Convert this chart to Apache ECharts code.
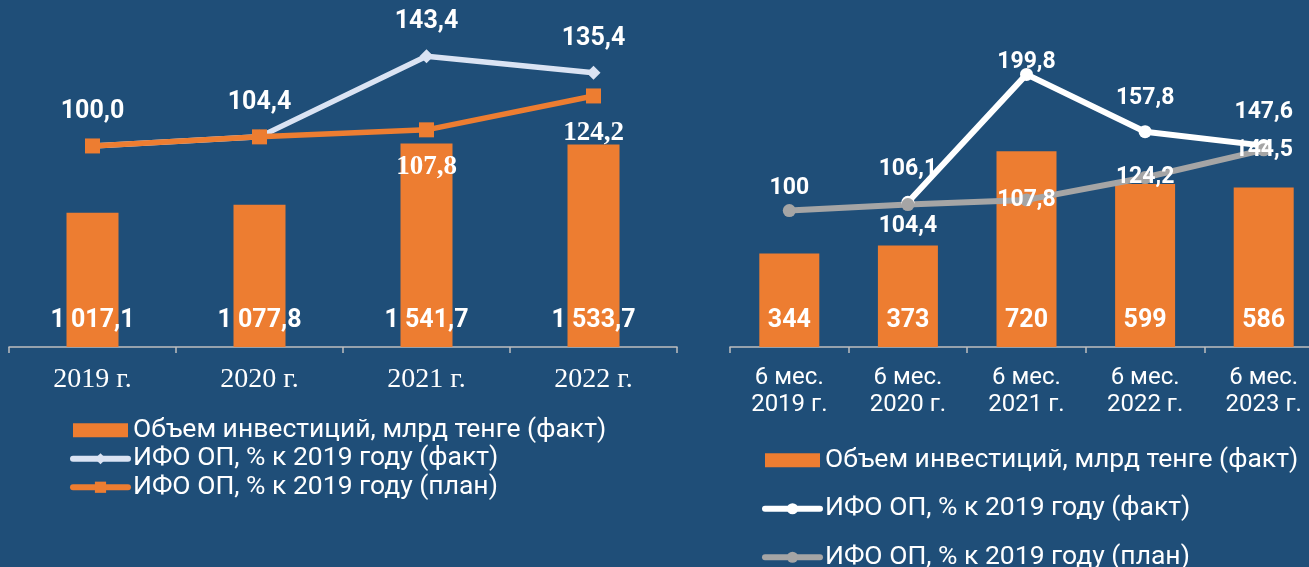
<!DOCTYPE html>
<html>
<head>
<meta charset="utf-8">
<script src="https://cdn.jsdelivr.net/npm/echarts@6/dist/echarts.min.js"></script>
<style>
  html, body { margin: 0; padding: 0; background: #1f4e78; }
  #chart { width: 1309px; height: 567px; }
</style>
</head>
<body>
<div id="chart"></div>
<script>
// left chart: yearly
const yearsLeft = ['2019 г.', '2020 г.', '2021 г.', '2022 г.'];
const investLeft = [1017.1, 1077.8, 1541.7, 1533.7];
const factLeft = [100.0, 104.4, 143.4, 135.4];
const planLeft = [100.0, 104.4, 107.8, 124.2];

// right chart: first half of year
const periodsRight = ['6 мес.\n2019 г.', '6 мес.\n2020 г.', '6 мес.\n2021 г.', '6 мес.\n2022 г.', '6 мес.\n2023 г.'];
const investRight = [344, 373, 720, 599, 586];
const factRight = [null, 106.1, 199.8, 157.8, 147.6];
const planRight = [100, 104.4, 107.8, 124.2, 144.5];

const names = [
  'Объем инвестиций, млрд тенге (факт)',
  'ИФО ОП, % к 2019 году (факт)',
  'ИФО ОП, % к 2019 году (план)'
];
// right chart series get a trailing space so the two legends stay separate
const namesRight = names.map(n => n + ' ');

// label placement (kept apart from the values)
const planLeftLabelShown = [false, false, true, true];
const factRightLabelDist = [15, 15, -6, 15, 15];
const planRightLabelPos = ['top', 'bottom', 'inside', 'inside', 'inside'];

const ORANGE = '#ed7d31';
const FONT = 'Roboto';

const fmtBig = v => {
  const [i, d] = v.toFixed(1).split('.');
  return i.replace(/\B(?=(\d{3})+(?!\d))/g, ' ') + ',' + d;
};
const fmt1 = v => v.toFixed(1).replace('.', ',');
const fmtRaw = v => String(v).replace('.', ',');

const axisLine = { lineStyle: { color: '#bfbfbf', width: 1.5 } };
const axisTick = { show: true, length: 6, lineStyle: { color: '#bfbfbf', width: 1.5 } };
const legendLine = { width: 6, cap: 'round' };
const legendText = { color: '#fff', fontFamily: FONT, fontSize: 26.5, lineHeight: 28.5 };

const chart = echarts.init(document.getElementById('chart'));

const option = {
  backgroundColor: '#1f4e78',
  animation: false,
  grid: [
    { left: 9, top: 10, width: 668, height: 337, outerBoundsMode: 'none' },
    { left: 730, top: 10, width: 593, height: 337, outerBoundsMode: 'none' }
  ],
  xAxis: [
    {
      type: 'category', gridIndex: 0, data: yearsLeft,
      axisLine, axisTick,
      axisLabel: { color: '#fff', fontFamily: 'Liberation Serif', fontSize: 28, margin: 19 }
    },
    {
      type: 'category', gridIndex: 1, data: periodsRight,
      axisLine, axisTick,
      axisLabel: { color: '#fff', fontFamily: FONT, fontSize: 24, lineHeight: 27, margin: 17 }
    }
  ],
  yAxis: [
    { type: 'value', gridIndex: 0, min: 0, max: 2553, show: false, splitLine: { show: false } },
    { type: 'value', gridIndex: 0, min: 2.7, max: 165.8, show: false, splitLine: { show: false } },
    { type: 'value', gridIndex: 1, min: 0, max: 1239, show: false, splitLine: { show: false } },
    { type: 'value', gridIndex: 1, min: 0, max: 247, show: false, splitLine: { show: false } }
  ],
  legend: [
    {
      orient: 'vertical', left: 70, top: 416, height: 150, padding: 0,
      itemWidth: 55, itemHeight: 14, itemGap: 0,
      textStyle: legendText,
      data: [
        { name: names[0], icon: 'rect' },
        { name: names[1], lineStyle: legendLine },
        { name: names[2], lineStyle: legendLine }
      ]
    },
    {
      orient: 'vertical', left: 762, top: 446, height: 200, padding: 0,
      itemWidth: 55, itemHeight: 14, itemGap: 20,
      formatter: n => n.trim(),
      textStyle: legendText,
      data: [
        { name: namesRight[0], icon: 'rect' },
        { name: namesRight[1], lineStyle: legendLine },
        { name: namesRight[2], lineStyle: legendLine }
      ]
    }
  ],
  series: [
    {
      name: names[0], type: 'bar', xAxisIndex: 0, yAxisIndex: 0,
      data: investLeft, barWidth: 52,
      itemStyle: { color: ORANGE },
      label: {
        show: true, position: 'insideBottom', distance: 14,
        color: '#fff', fontFamily: FONT, fontWeight: 'bold', fontSize: 25,
        formatter: p => fmtBig(p.value)
      }
    },
    {
      name: names[1], type: 'line', xAxisIndex: 0, yAxisIndex: 1,
      data: factLeft,
      symbol: 'diamond', symbolSize: 14,
      lineStyle: { color: '#dae3f3', width: 5.5 },
      itemStyle: { color: '#dae3f3' },
      label: {
        show: true, position: 'top', distance: 15,
        color: '#fff', fontFamily: FONT, fontWeight: 'bold', fontSize: 25,
        formatter: p => fmt1(p.value)
      }
    },
    {
      name: names[2], type: 'line', xAxisIndex: 0, yAxisIndex: 1,
      data: planLeft.map((v, i) => ({ value: v, label: { show: planLeftLabelShown[i] } })),
      symbol: 'rect', symbolSize: 15,
      lineStyle: { color: ORANGE, width: 5.5 },
      itemStyle: { color: ORANGE },
      label: {
        position: 'bottom', distance: 16,
        color: '#fff', fontFamily: 'Liberation Serif', fontWeight: 'bold', fontSize: 27,
        formatter: p => fmt1(p.value)
      }
    },
    {
      name: namesRight[0], type: 'bar', xAxisIndex: 1, yAxisIndex: 2,
      data: investRight, barWidth: 60,
      itemStyle: { color: ORANGE },
      label: {
        show: true, position: 'insideBottom', distance: 14,
        color: '#fff', fontFamily: FONT, fontWeight: 'bold', fontSize: 25
      }
    },
    {
      name: namesRight[1], type: 'line', xAxisIndex: 1, yAxisIndex: 3,
      data: factRight.map((v, i) => ({ value: v, label: { distance: factRightLabelDist[i] } })),
      symbol: 'circle', symbolSize: 13,
      lineStyle: { color: '#ffffff', width: 6 },
      itemStyle: { color: '#ffffff' },
      label: {
        show: true, position: 'top',
        color: '#fff', fontFamily: FONT, fontWeight: 'bold', fontSize: 23,
        formatter: p => fmtRaw(p.value)
      }
    },
    {
      name: namesRight[2], type: 'line', xAxisIndex: 1, yAxisIndex: 3,
      data: planRight.map((v, i) => ({ value: v, label: { position: planRightLabelPos[i] } })),
      symbol: 'circle', symbolSize: 13,
      lineStyle: { color: '#a5a5a5', width: 6 },
      itemStyle: { color: '#a5a5a5' },
      label: {
        show: true, distance: 4,
        color: '#fff', fontFamily: FONT, fontWeight: 'bold', fontSize: 23,
        formatter: p => fmtRaw(p.value)
      }
    }
  ]
};

chart.setOption(option);
</script>
</body>
</html>
